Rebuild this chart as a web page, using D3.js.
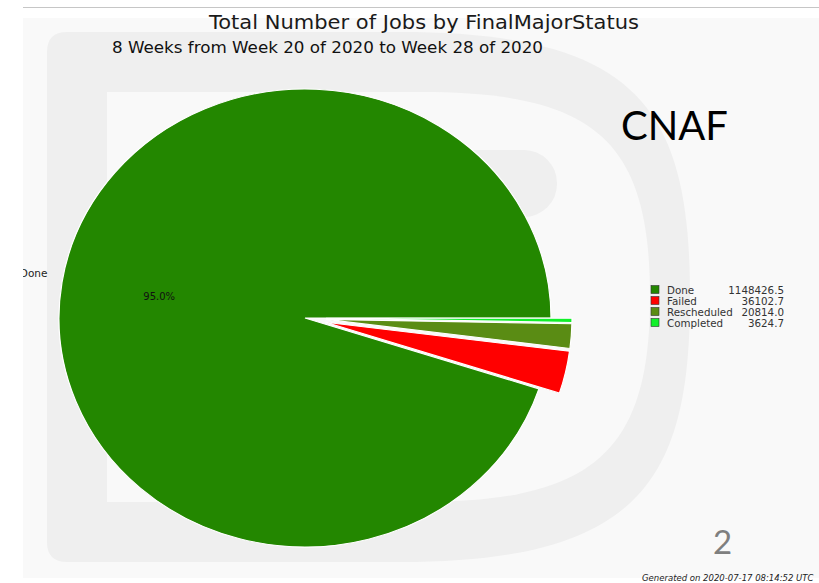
<!DOCTYPE html>
<html>
<head>
<meta charset="utf-8">
<script src="https://cdn.jsdelivr.net/npm/d3@7"></script>
<style>
  body { margin: 0; background: #fff; }
  svg { display: block; }
</style>
</head>
<body>
<svg id="chart" width="819" height="583"></svg>
<script>
// data
const categories = ["Done", "Failed", "Rescheduled", "Completed"];
const jobs = [1148426.5, 36102.7, 20814.0, 3624.7];
const sliceColors = ["#238700", "#ff0000", "#5a8c14", "#11f02a"];
const title = "Total Number of Jobs by FinalMajorStatus";
const subtitle = "8 Weeks from Week 20 of 2020 to Week 28 of 2020";
const siteName = "CNAF";
const pageNumber = "2";
const generated = "Generated on 2020-07-17 08:14:52 UTC";

let svg = d3.select("#chart");

// slide background and the big faded "D"
svg.append("line")
    .attr("x1", 23).attr("x2", 819).attr("y1", 7.5).attr("y2", 7.5)
    .attr("stroke", "#c6c6c6").attr("stroke-width", 1);

svg.append("clipPath").attr("id", "slide")
  .append("rect").attr("x", 23).attr("y", 18).attr("width", 796).attr("height", 560);

svg.append("rect")
    .attr("x", 23).attr("y", 18).attr("width", 796).attr("height", 560)
    .attr("fill", "#f9f9f9");

svg.append("path")
    .attr("fill", "#efefef")
    .attr("d", "M67,32 L400,32 C640,32 690,110 690,297 C690,480 640,562 400,562 L67,562 Q47,562 47,542 L47,52 Q47,32 67,32 Z");

svg.append("path")
    .attr("fill", "#f9f9f9")
    .attr("d", "M107,92 L420,92 C595,92 650,140 650,297 C650,450 595,502 420,502 L107,502 Z");

svg.append("rect")
    .attr("x", 380).attr("y", 150).attr("width", 177).attr("height", 67)
    .attr("rx", 33).attr("fill", "#efefef");

// titles
svg.append("text")
    .attr("x", 424).attr("y", 29)
    .attr("text-anchor", "middle")
    .attr("textLength", 430).attr("lengthAdjust", "spacingAndGlyphs")
    .style("font-family", "DejaVu Sans").style("font-size", "19.5px")
    .attr("fill", "#1a1a1a")
    .text(title);

svg.append("text")
    .attr("x", 112).attr("y", 52.5)
    .attr("textLength", 431).attr("lengthAdjust", "spacingAndGlyphs")
    .style("font-family", "DejaVu Sans").style("font-size", "16px")
    .attr("fill", "#111")
    .text(subtitle);

svg.append("text")
    .attr("x", 621).attr("y", 140)
    .style("font-family", "Lato").style("font-size", "40px")
    .attr("fill", "#000")
    .text(siteName);

svg.append("text")
    .attr("x", 713).attr("y", 554)
    .style("font-family", "Lato").style("font-size", "33px")
    .attr("fill", "#7f7f7f")
    .text(pageNumber);

svg.append("text")
    .attr("x", 642).attr("y", 581)
    .style("font-family", "DejaVu Sans").style("font-size", "8.5px")
    .style("font-style", "italic")
    .attr("fill", "#222")
    .text(generated);

// pie
let cx = 305, cy = 318, radius = 246, yStretch = 229 / 246;
let explodeOffset = 21;

let color = d3.scaleOrdinal().domain(categories).range(sliceColors);
let total = d3.sum(jobs);
let pct = d3.format(".1%");

let pie = d3.pie()
    .sort(null)
    .startAngle(Math.PI / 2)           // start at 3 o'clock
    .endAngle(Math.PI / 2 - 2 * Math.PI) // go counter-clockwise
    .value(d => d.value);

let slices = pie(categories.map((c, i) => ({ name: c, value: jobs[i] })));

let arc = d3.arc().innerRadius(0).outerRadius(radius);

let pieG = svg.append("g")
    .attr("transform", `translate(${cx},${cy}) scale(1,${yStretch})`);

pieG.selectAll("path")
    .data(slices)
    .join("path")
    .attr("d", arc)
    .attr("transform", (d, i) => {
        if (i === 0) return null;
        let mid = (d.startAngle + d.endAngle) / 2;
        return `translate(${explodeOffset * Math.sin(mid)},${-explodeOffset * Math.cos(mid)})`;
    })
    .attr("fill", d => color(d.data.name))
    .attr("stroke", "#fff")
    .attr("stroke-width", 1.2);

// label and percent for the big slice only
let big = slices[0];
let bigMid = (big.startAngle + big.endAngle) / 2;

svg.append("text")
    .attr("clip-path", "url(#slide)")
    .attr("x", cx + 1.06 * radius * Math.sin(bigMid))
    .attr("y", cy - 1.06 * radius * yStretch * Math.cos(bigMid) - 3)
    .attr("text-anchor", "end")
    .style("font-family", "DejaVu Sans").style("font-size", "10.5px")
    .attr("fill", "#222")
    .text(big.data.name);

svg.append("text")
    .attr("x", cx + 0.6 * radius * Math.sin(bigMid))
    .attr("y", cy - 0.6 * radius * yStretch * Math.cos(bigMid) + 3.5)
    .attr("text-anchor", "middle")
    .style("font-family", "DejaVu Sans").style("font-size", "10px")
    .attr("fill", "#111")
    .text(pct(big.value / total));

// legend
let legendY = d3.scaleBand().domain(categories).range([284, 328]);
let fmt = d3.format(".1f");

let legend = svg.append("g")
    .style("font-family", "DejaVu Sans").style("font-size", "10.3px")
    .attr("fill", "#333");

let rows = legend.selectAll("g")
    .data(categories)
    .join("g")
    .attr("transform", d => `translate(0,${legendY(d)})`);

rows.append("rect")
    .attr("x", 651).attr("y", 1.5)
    .attr("width", 8).attr("height", 8)
    .attr("fill", d => color(d))
    .attr("stroke", "#333").attr("stroke-width", 0.6);

rows.append("text")
    .attr("x", 667).attr("y", 9.5)
    .text(d => d);

rows.append("text")
    .attr("x", 784).attr("y", 9.5)
    .attr("text-anchor", "end")
    .text((d, i) => fmt(jobs[i]));
</script>
</body>
</html>
